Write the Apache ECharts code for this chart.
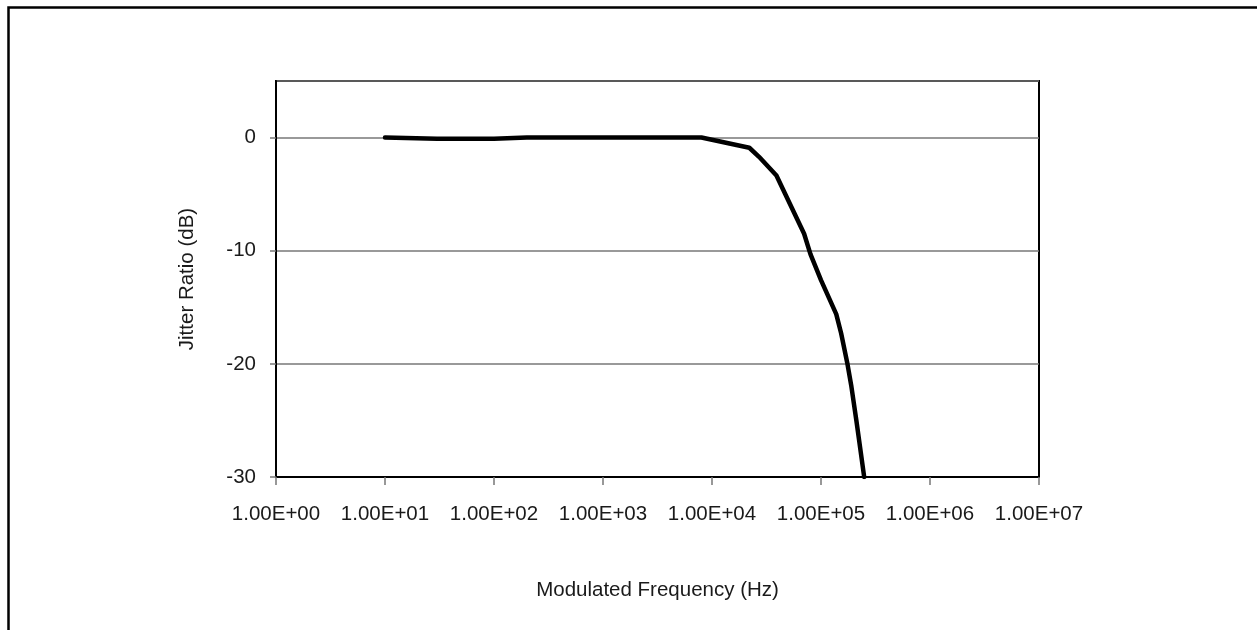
<!DOCTYPE html>
<html>
<head>
<meta charset="utf-8">
<script src="https://cdn.jsdelivr.net/npm/echarts@6/dist/echarts.min.js"></script>
<style>
html,body{margin:0;padding:0;background:#fff;}
#chart{width:1257px;height:630px;}
</style>
</head>
<body>
<div id="chart"></div>
<script>
const freqHz = [10, 30, 100, 200, 500, 1000, 2000, 5000, 8000, 22000, 27000, 39000, 70000, 80000, 100000, 138000, 153000, 174000, 190000, 211000, 224000, 249000];
const jitterDb = [0, -0.1, -0.1, 0, 0, 0, 0, 0, 0, -0.9, -1.7, -3.35, -8.5, -10.3, -12.6, -15.6, -17.3, -19.9, -22, -25, -26.8, -30];
const yTicks = [-30, -20, -10, 0];
const xAxisName = 'Modulated Frequency (Hz)';
const yAxisName = 'Jitter Ratio (dB)';

const points = freqHz.map((f, i) => [f, jitterDb[i]]);
const font = 'Liberation Sans, Arial, sans-serif';

function sci(v) {
  const e = Math.round(Math.log10(v));
  const m = v / Math.pow(10, e);
  const sign = e < 0 ? '-' : '+';
  return m.toFixed(2) + 'E' + sign + String(Math.abs(e)).padStart(2, '0');
}

const chart = echarts.init(document.getElementById('chart'), null, {renderer: 'canvas'});
chart.setOption({
  animation: false,
  backgroundColor: '#fff',
  graphic: [{
    type: 'rect',
    left: 6, top: 5,
    shape: {x: 0, y: 0, width: 1320, height: 700},
    style: {fill: 'none', stroke: '#000', lineWidth: 2.5},
    silent: true
  }],
  grid: {
    left: 276, top: 81, right: 218, bottom: 153,
    show: true, borderColor: '#000', borderWidth: 2, backgroundColor: 'transparent'
  },
  xAxis: {
    type: 'log',
    logBase: 10,
    min: 1, max: 1e7,
    splitNumber: 7,
    name: xAxisName,
    nameLocation: 'middle',
    nameGap: 103,
    nameTextStyle: {fontFamily: font, fontSize: 20.5, color: '#1a1a1a'},
    axisLine: {show: true, onZero: false, lineStyle: {color: '#000', width: 2}},
    axisTick: {show: true, inside: false, length: 8, lineStyle: {color: '#777', width: 1.5}},
    axisLabel: {margin: 27, fontFamily: font, fontSize: 20.5, color: '#1a1a1a', formatter: sci},
    splitLine: {show: false},
    minorTick: {show: false}
  },
  yAxis: {
    type: 'value',
    min: -30, max: 5, interval: 10,
    name: yAxisName,
    nameLocation: 'middle',
    nameGap: 78,
    nameRotate: 90,
    nameTextStyle: {fontFamily: font, fontSize: 20.5, color: '#1a1a1a'},
    axisLine: {show: true, onZero: false, lineStyle: {color: '#000', width: 2}},
    axisTick: {show: true, inside: false, length: 6, lineStyle: {color: '#777', width: 1.5}},
    axisLabel: {
      margin: 20, fontFamily: font, fontSize: 20.5, color: '#1a1a1a',
      showMaxLabel: false,
      formatter: v => (yTicks.indexOf(v) >= 0 ? String(v) : '')
    },
    splitLine: {show: true, lineStyle: {color: '#777', width: 1.5}}
  },
  series: [{
    type: 'line',
    data: points,
    showSymbol: false,
    symbol: 'none',
    smooth: false,
    lineStyle: {color: '#000', width: 4.5, cap: 'round', join: 'round'},
    clip: true
  }]
});
</script>
</body>
</html>
